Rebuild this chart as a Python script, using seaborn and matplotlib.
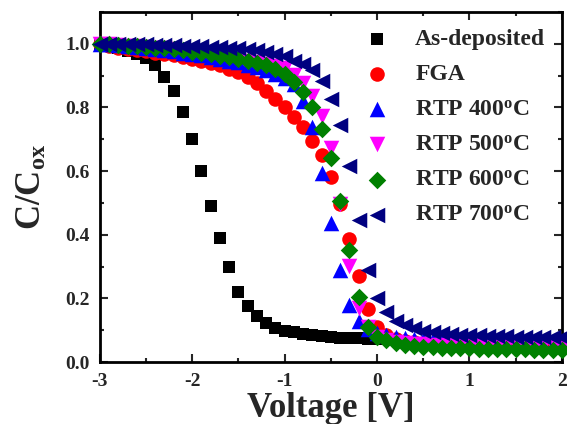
import numpy as np
import pandas as pd
import matplotlib
matplotlib.use("Agg")
import matplotlib.pyplot as plt
import seaborn as sns
from matplotlib.ticker import MultipleLocator

# gate voltage sweep [V]
voltage = [-3.0, -2.9, -2.8, -2.7, -2.6, -2.5, -2.4, -2.3, -2.2, -2.1,
           -2.0, -1.9, -1.8, -1.7, -1.6, -1.5, -1.4, -1.3, -1.2, -1.1,
           -1.0, -0.9, -0.8, -0.7, -0.6, -0.5, -0.4, -0.3, -0.2, -0.1,
           0.0, 0.1, 0.2, 0.3, 0.4, 0.5, 0.6, 0.7, 0.8, 0.9,
           1.0, 1.1, 1.2, 1.3, 1.4, 1.5, 1.6, 1.7, 1.8, 1.9, 2.0]

# normalised capacitance C/Cox
as_dep = [1.000, 0.995, 0.987, 0.978, 0.968, 0.955, 0.932, 0.897, 0.850, 0.785,
          0.700, 0.600, 0.490, 0.390, 0.300, 0.220, 0.175, 0.145, 0.122, 0.107,
          0.099, 0.093, 0.089, 0.085, 0.081, 0.079, 0.077, 0.076, 0.075, 0.074,
          0.073]
fga = [1.000, 0.993, 0.988, 0.984, 0.980, 0.976, 0.971, 0.967, 0.963, 0.958,
       0.953, 0.947, 0.940, 0.932, 0.922, 0.911, 0.896, 0.876, 0.852, 0.827,
       0.800, 0.771, 0.737, 0.695, 0.650, 0.581, 0.495, 0.388, 0.269, 0.166,
       0.111, 0.085, 0.073, 0.067, 0.063, 0.060, 0.058, 0.057, 0.056, 0.055,
       0.054, 0.053, 0.053, 0.052, 0.052, 0.051, 0.051, 0.050, 0.050, 0.049, 0.049]
rtp400 = [1.000, 0.998, 0.996, 0.993, 0.990, 0.987, 0.984, 0.980, 0.976, 0.972,
          0.968, 0.963, 0.958, 0.953, 0.947, 0.941, 0.934, 0.926, 0.917, 0.906,
          0.893, 0.874, 0.821, 0.737, 0.595, 0.437, 0.290, 0.180, 0.130, 0.105,
          0.092, 0.086, 0.080, 0.076, 0.073, 0.070, 0.068, 0.066, 0.065, 0.064,
          0.063, 0.062, 0.061, 0.060, 0.060, 0.059, 0.059, 0.058, 0.058, 0.057, 0.057]
rtp500 = [1.000, 0.998, 0.996, 0.994, 0.992, 0.990, 0.988, 0.985, 0.982, 0.978,
          0.974, 0.970, 0.966, 0.961, 0.956, 0.951, 0.946, 0.942, 0.937, 0.931,
          0.924, 0.902, 0.877, 0.835, 0.774, 0.672, 0.495, 0.303, 0.169, 0.110,
          0.080, 0.068, 0.062, 0.059, 0.057, 0.056, 0.055, 0.054, 0.054, 0.053,
          0.053, 0.052, 0.052, 0.052, 0.051, 0.051, 0.051, 0.050, 0.050, 0.050, 0.050]
rtp600 = [1.000, 0.998, 0.996, 0.994, 0.992, 0.990, 0.988, 0.986, 0.983, 0.979,
          0.975, 0.971, 0.967, 0.962, 0.957, 0.951, 0.945, 0.940, 0.932, 0.920,
          0.905, 0.879, 0.847, 0.800, 0.732, 0.642, 0.506, 0.353, 0.206, 0.111,
          0.080, 0.068, 0.059, 0.054, 0.050, 0.048, 0.046, 0.045, 0.044, 0.043,
          0.043, 0.042, 0.042, 0.041, 0.041, 0.040, 0.040, 0.039, 0.039, 0.038, 0.038]
rtp700 = [1.000, 1.000, 0.999, 0.999, 0.998, 0.998, 0.997, 0.996, 0.995, 0.994,
          0.993, 0.992, 0.991, 0.990, 0.988, 0.986, 0.984, 0.981, 0.975, 0.968,
          0.961, 0.947, 0.937, 0.916, 0.884, 0.826, 0.744, 0.616, 0.446, 0.290,
          0.200, 0.156, 0.130, 0.117, 0.106, 0.098, 0.093, 0.090, 0.088, 0.086,
          0.085, 0.084, 0.083, 0.082, 0.081, 0.080, 0.080, 0.079, 0.079, 0.078, 0.078]

labels = ["As-deposited", "FGA", r"RTP 400$^{\rm o}$C", r"RTP 500$^{\rm o}$C",
          r"RTP 600$^{\rm o}$C", r"RTP 700$^{\rm o}$C"]
series = [as_dep, fga, rtp400, rtp500, rtp600, rtp700]
colors = ["#000000", "#ff0000", "#0000ff", "#ff00ff", "#008000", "#000080"]
markers = ["s", "o", "^", "v", "D", "<"]
msizes = [75, 110, 125, 125, 80, 125]

sns.set_theme(style="ticks")
plt.rcParams["font.family"] = ["Liberation Serif", "DejaVu Serif"]
plt.rcParams["font.weight"] = "bold"
plt.rcParams["mathtext.fontset"] = "custom"
plt.rcParams["mathtext.rm"] = "Liberation Serif:bold"
plt.rcParams["mathtext.it"] = "Liberation Serif:bold"
plt.rcParams["mathtext.bf"] = "Liberation Serif:bold"
plt.rcParams["axes.unicode_minus"] = False

fig = plt.figure(figsize=(5.67, 4.24), dpi=100)
ax = fig.add_axes([0.176, 0.146, 0.815, 0.826])

for lab, y, c, m, s in zip(labels, series, colors, markers, msizes):
    df = pd.DataFrame({"V": voltage[:len(y)], "C": y})
    sns.scatterplot(data=df, x="V", y="C", ax=ax, color=c, marker=m, s=s,
                    linewidth=0, label=lab, clip_on=False, zorder=3)

ax.set_xlim(-3, 2)
ax.set_ylim(0, 1.1)
ax.xaxis.set_major_locator(MultipleLocator(1))
ax.xaxis.set_minor_locator(MultipleLocator(0.5))
ax.yaxis.set_major_locator(MultipleLocator(0.2))
ax.yaxis.set_minor_locator(MultipleLocator(0.1))
ax.tick_params(which="both", direction="in", top=True, right=True,
               labelsize=14, width=1.5)
ax.tick_params(which="major", length=6)
ax.tick_params(which="minor", length=3)
ax.tick_params(axis="x", which="major", pad=8)
ax.tick_params(axis="y", which="major", pad=7)
for sp in ax.spines.values():
    sp.set_linewidth(2)
    sp.set_color("black")
ax.set_yticks([0, 0.2, 0.4, 0.6, 0.8, 1.0])
ax.set_yticklabels(["0.0", "0.2", "0.4", "0.6", "0.8", "1.0"])

ax.set_xlabel("Voltage [V]", fontsize=25, fontweight="bold", labelpad=1)
ax.set_ylabel(r"C/C$_{\rm ox}$", fontsize=25, fontweight="bold", labelpad=12)

ax.legend(loc="upper right", bbox_to_anchor=(1.0, 1.0), frameon=False,
          fontsize=17, handletextpad=0.6, labelspacing=0.58,
          borderaxespad=0.3, markerscale=1.0)

fig.savefig("out.png", dpi=100)
